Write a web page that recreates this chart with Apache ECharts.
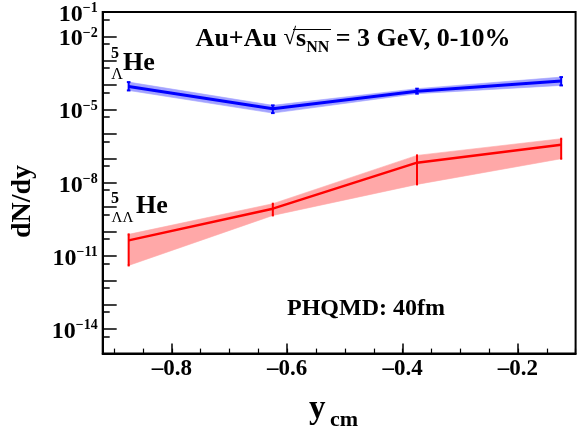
<!DOCTYPE html>
<html><head><meta charset="utf-8">
<script src="https://cdn.jsdelivr.net/npm/echarts@6/dist/echarts.min.js"></script>
<style>html,body{margin:0;padding:0;background:#fff}#c{width:582px;height:430px}</style>
</head><body><div id="c"></div>
<script>
// ---- data ----
const yCm = [-0.875, -0.625, -0.375, -0.125];
const heL = [8.9e-5, 1.09e-5, 5.7e-5, 1.47e-4];
const heLLow = [6.1e-5, 7.2e-6, 4.5e-5, 9.8e-5];
const heLHigh = [1.34e-4, 1.49e-5, 7.2e-5, 2.15e-4];
const heLL = [4.36e-11, 8.7e-10, 6.7e-8, 3.64e-7];
const heLLLow = [4.1e-12, 4.6e-10, 8.6e-9, 9.7e-8];
const heLLHigh = [7.7e-11, 1.39e-9, 1.33e-7, 6.4e-7];
const xTickLabels = [-0.8, -0.6, -0.4, -0.2];
const xMinorTicks = [-0.9, -0.85, -0.8, -0.75, -0.7, -0.65, -0.6, -0.55, -0.5, -0.45, -0.4, -0.35, -0.3, -0.25, -0.2, -0.15, -0.1];
const yLabelExponents = [-1, -2, -5, -8, -11, -14];
const yMinorTicks = [5e-15, 5e-14, 5e-13, 5e-12, 5e-11, 5e-10, 5e-9, 5e-8, 5e-7, 5e-6, 5e-5, 5e-4, 5e-3, 5e-2];

const FONT = '"Liberation Serif", "Times New Roman", serif';
const BLUE = '#0000ff', BLUE_BAND = '#a3a3ff';
const RED = '#ff0000', RED_BAND = '#ffa8a8';

function bandSeries(lo, hi, color) {
  return {
    type: 'custom', silent: true, z: 1,
    data: yCm.map((x, i) => [x, lo[i], hi[i]]),
    renderItem(params, api) {
      const i = params.dataIndex;
      if (i >= yCm.length - 1) return null;
      const pts = [
        api.coord([yCm[i], lo[i]]), api.coord([yCm[i + 1], lo[i + 1]]),
        api.coord([yCm[i + 1], hi[i + 1]]), api.coord([yCm[i], hi[i]])
      ];
      return { type: 'polygon', shape: { points: pts }, style: { fill: color, stroke: color, lineWidth: 0.6 } };
    }
  };
}
function errSeries(lo, hi, color, w, cap) {
  return {
    type: 'custom', silent: true, z: 4,
    data: yCm.map((x, i) => [x, lo[i], hi[i]]),
    renderItem(params, api) {
      const x = api.value(0);
      const a = api.coord([x, api.value(2)]), b = api.coord([x, api.value(1)]);
      const st = { stroke: color, lineWidth: w };
      return { type: 'group', children: [
        { type: 'line', shape: { x1: a[0], y1: a[1], x2: b[0], y2: b[1] }, style: st },
        { type: 'line', shape: { x1: a[0] - cap, y1: a[1], x2: a[0] + cap, y2: a[1] }, style: st },
        { type: 'line', shape: { x1: b[0] - cap, y1: b[1], x2: b[0] + cap, y2: b[1] }, style: st }
      ] };
    }
  };
}
function lineSeries(vals, color, w) {
  return {
    type: 'line', z: 3, showSymbol: false, silent: true,
    data: yCm.map((x, i) => [x, vals[i]]),
    lineStyle: { color: color, width: w }
  };
}

const chart = echarts.init(document.getElementById('c'), null, { renderer: 'canvas' });
const option = {
  animation: false,
  backgroundColor: '#fff',
  grid: { left: 102.7, right: 6.4, top: 12, bottom: 76.4, show: true, borderColor: '#000', borderWidth: 2,
          backgroundColor: 'transparent', containLabel: false, outerBoundsMode: 'none' },
  xAxis: [
    { type: 'value', min: -0.92, max: -0.1, position: 'bottom',
      axisLine: { show: true, onZero: false, lineStyle: { color: '#000', width: 2 } },
      splitLine: { show: false },
      axisTick: { show: true, inside: true, length: 10, customValues: xTickLabels, lineStyle: { color: '#000', width: 1.5 } },
      axisLabel: { customValues: xTickLabels, formatter: v => (v < 0 ? '\u2013' : '') + Math.abs(v).toFixed(1),
                   fontFamily: FONT, fontWeight: 'bold', fontSize: 23, color: '#000', margin: 4 } },
    { type: 'value', min: -0.92, max: -0.1, position: 'bottom',
      axisLine: { show: false }, splitLine: { show: false }, axisLabel: { show: false },
      axisTick: { show: true, inside: true, length: 5, customValues: xMinorTicks, lineStyle: { color: '#000', width: 1.2 } } }
  ],
  yAxis: [
    { type: 'log', logBase: 10, min: 1e-15, max: 1e-1, interval: 1, position: 'left',
      axisLine: { show: true, onZero: false, lineStyle: { color: '#000', width: 2 } },
      splitLine: { show: false }, minorTick: { show: false },
      axisTick: { show: true, inside: true, length: 14, lineStyle: { color: '#000', width: 1.5 } },
      axisLabel: {
        margin: 5,
        formatter: v => {
          const e = Math.round(Math.log10(v));
          return yLabelExponents.indexOf(e) >= 0 ? '{b|10}{s|\u2212' + Math.abs(e) + '}' : '';
        },
        rich: {
          b: { fontFamily: FONT, fontWeight: 'bold', fontSize: 24, lineHeight: 21, padding: [5, 0, 0, 0], color: '#000' },
          s: { fontFamily: FONT, fontWeight: 'bold', fontSize: 14, lineHeight: 16, verticalAlign: 'top', color: '#000' }
        }
      } },
    { type: 'value', min: -15, max: -1, position: 'left',
      axisLine: { show: false }, splitLine: { show: false }, axisLabel: { show: false },
      axisTick: { show: true, inside: true, length: 7, customValues: yMinorTicks.map(v => Math.log10(v)),
                  lineStyle: { color: '#000', width: 1.5 } } }
  ],
  series: [
    bandSeries(heLLow, heLHigh, BLUE_BAND),
    lineSeries(heL, BLUE, 3),
    errSeries(heLLow, heLHigh, BLUE, 2, 1.8),
    bandSeries(heLLLow, heLLHigh, RED_BAND),
    lineSeries(heLL, RED, 2.5),
    errSeries(heLLLow, heLLHigh, RED, 2, 1)
  ],
  graphic: [
    { type: 'text', x: 353, y: 38.5, silent: true,
      style: { text: '{n|Au+Au }{r|\u221A}{n|s}{sub|NN}{n| = 3 GeV, 0-10%}', align: 'center', verticalAlign: 'middle',
        rich: {
          n: { fontFamily: FONT, fontWeight: 'bold', fontSize: 26, lineHeight: 24, verticalAlign: 'top', color: '#000' },
          r: { fontFamily: FONT, fontSize: 23, lineHeight: 24, verticalAlign: 'top', color: '#000' },
          sub: { fontFamily: FONT, fontWeight: 'bold', fontSize: 16, lineHeight: 16, padding: [13, 0, 0, 0], verticalAlign: 'top', color: '#000' }
        } } },
    { type: 'line', silent: true, shape: { x1: 293, y1: 29.5, x2: 331, y2: 29.5 }, style: { stroke: '#000', lineWidth: 1.2 } },
    { type: 'text', x: 115, y: 54, silent: true, style: { text: '5', font: 'bold 16px ' + FONT, fill: '#000', align: 'center', verticalAlign: 'middle' } },
    { type: 'text', x: 117, y: 75, silent: true, style: { text: '\u039B', font: '16px ' + FONT, fill: '#000', align: 'center', verticalAlign: 'middle' } },
    { type: 'text', x: 123, y: 62.9, silent: true, style: { text: 'He', font: 'bold 26px ' + FONT, fill: '#000', align: 'left', verticalAlign: 'middle' } },
    { type: 'text', x: 115, y: 198.5, silent: true, style: { text: '5', font: 'bold 16px ' + FONT, fill: '#000', align: 'center', verticalAlign: 'middle' } },
    { type: 'text', x: 122.5, y: 218, silent: true, style: { text: '\u039B\u039B', font: '15px ' + FONT, fill: '#000', align: 'center', verticalAlign: 'middle' } },
    { type: 'text', x: 136, y: 206.2, silent: true, style: { text: 'He', font: 'bold 26px ' + FONT, fill: '#000', align: 'left', verticalAlign: 'middle' } },
    { type: 'text', x: 366, y: 308.8, silent: true, style: { text: 'PHQMD: 40fm', font: 'bold 24px ' + FONT, fill: '#000', align: 'center', verticalAlign: 'middle' } },
    { type: 'text', x: 22.4, y: 201.5, rotation: Math.PI / 2, silent: true, style: { text: 'dN/dy', font: 'bold 28px ' + FONT, fill: '#000', align: 'center', verticalAlign: 'middle' } },
    { type: 'text', x: 309, y: 409, silent: true, style: { text: 'y', font: 'bold 33px ' + FONT, fill: '#000', align: 'left', verticalAlign: 'middle' } },
    { type: 'text', x: 330, y: 420.2, silent: true, style: { text: 'cm', font: 'bold 22px ' + FONT, fill: '#000', align: 'left', verticalAlign: 'middle' } }
  ]
};
chart.setOption(option);
</script>
</body></html>
